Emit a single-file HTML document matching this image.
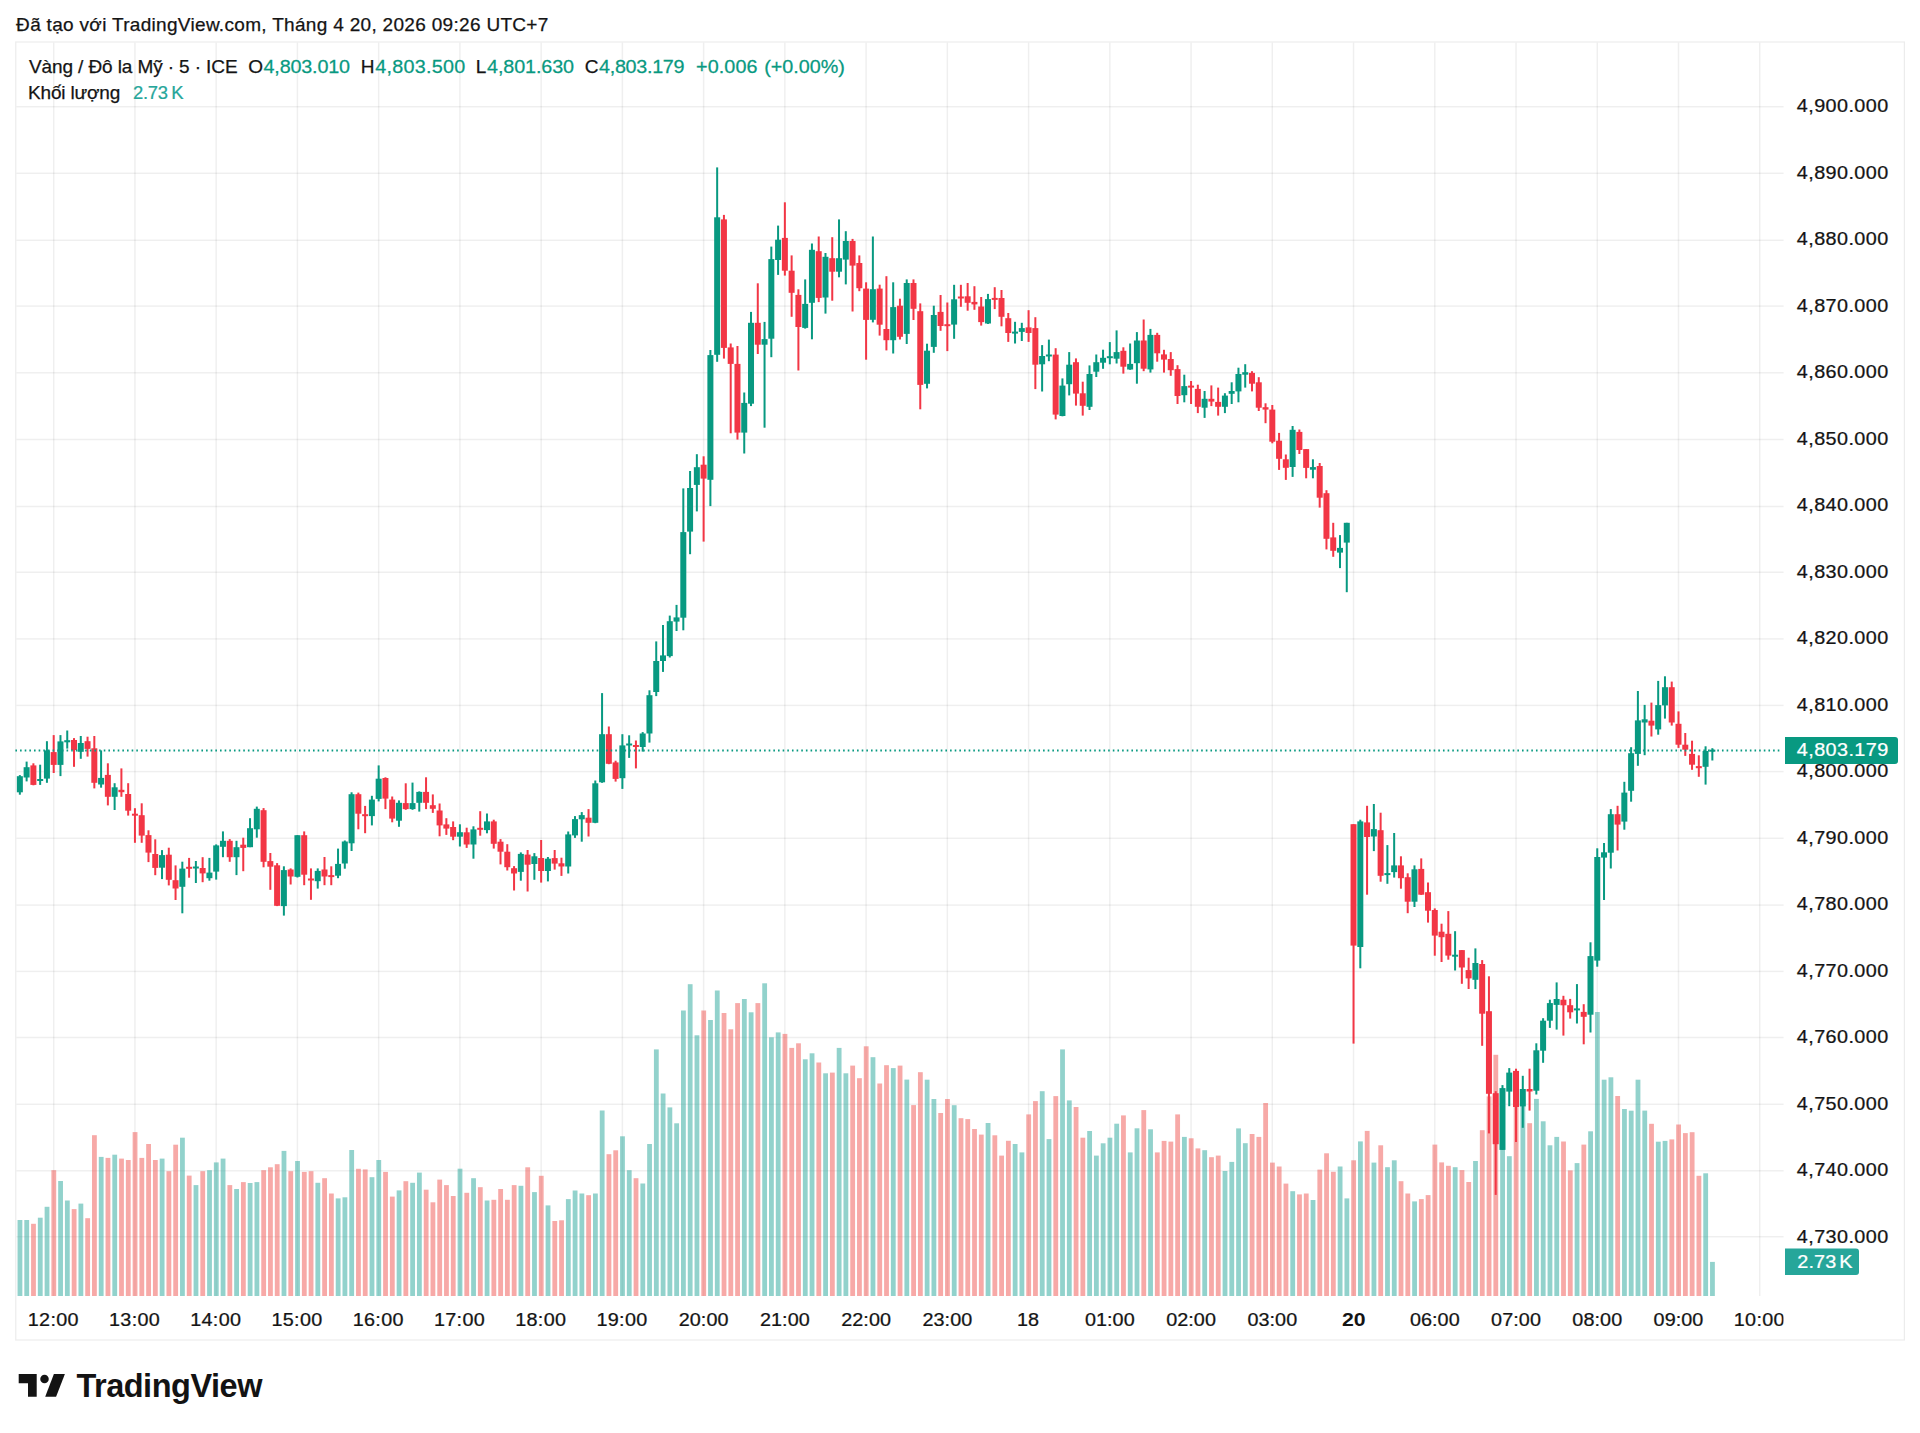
<!DOCTYPE html>
<html lang="vi"><head><meta charset="utf-8"><title>Vàng / Đô la Mỹ</title>
<style>html,body{margin:0;padding:0;background:#fff}body{width:1920px;height:1433px;position:relative;overflow:hidden}svg{position:absolute;left:0;top:0;display:block}text{font-family:'Liberation Sans', sans-serif;white-space:pre}.g{fill:#089981}.r{fill:#F23645}.vg{fill:rgba(38,166,154,0.5)}.vr{fill:rgba(239,83,80,0.5)}</style></head><body>
<svg width="1920" height="1433" viewBox="0 0 1920 1433">
<rect width="1920" height="1433" fill="#fff"/>
<g fill="rgba(0,0,0,0.062)">
<rect x="52.95" y="42.75" width="1.5" height="1253.25"/>
<rect x="134.19" y="42.75" width="1.5" height="1253.25"/>
<rect x="215.43" y="42.75" width="1.5" height="1253.25"/>
<rect x="296.67" y="42.75" width="1.5" height="1253.25"/>
<rect x="377.91" y="42.75" width="1.5" height="1253.25"/>
<rect x="459.15" y="42.75" width="1.5" height="1253.25"/>
<rect x="540.39" y="42.75" width="1.5" height="1253.25"/>
<rect x="621.63" y="42.75" width="1.5" height="1253.25"/>
<rect x="702.87" y="42.75" width="1.5" height="1253.25"/>
<rect x="784.11" y="42.75" width="1.5" height="1253.25"/>
<rect x="865.35" y="42.75" width="1.5" height="1253.25"/>
<rect x="946.59" y="42.75" width="1.5" height="1253.25"/>
<rect x="1027.83" y="42.75" width="1.5" height="1253.25"/>
<rect x="1109.07" y="42.75" width="1.5" height="1253.25"/>
<rect x="1190.31" y="42.75" width="1.5" height="1253.25"/>
<rect x="1271.55" y="42.75" width="1.5" height="1253.25"/>
<rect x="1352.79" y="42.75" width="1.5" height="1253.25"/>
<rect x="1434.03" y="42.75" width="1.5" height="1253.25"/>
<rect x="1515.27" y="42.75" width="1.5" height="1253.25"/>
<rect x="1596.51" y="42.75" width="1.5" height="1253.25"/>
<rect x="1677.75" y="42.75" width="1.5" height="1253.25"/>
<rect x="1758.99" y="42.75" width="1.5" height="1253.25"/>
<rect x="16.5" y="1235.95" width="1767.1" height="1.5"/>
<rect x="16.5" y="1170.05" width="1767.1" height="1.5"/>
<rect x="16.5" y="1103.55" width="1767.1" height="1.5"/>
<rect x="16.5" y="1036.75" width="1767.1" height="1.5"/>
<rect x="16.5" y="970.65" width="1767.1" height="1.5"/>
<rect x="16.5" y="904.35" width="1767.1" height="1.5"/>
<rect x="16.5" y="837.55" width="1767.1" height="1.5"/>
<rect x="16.5" y="770.85" width="1767.1" height="1.5"/>
<rect x="16.5" y="704.65" width="1767.1" height="1.5"/>
<rect x="16.5" y="638.15" width="1767.1" height="1.5"/>
<rect x="16.5" y="571.50" width="1767.1" height="1.5"/>
<rect x="16.5" y="505.75" width="1767.1" height="1.5"/>
<rect x="16.5" y="438.75" width="1767.1" height="1.5"/>
<rect x="16.5" y="372.05" width="1767.1" height="1.5"/>
<rect x="16.5" y="305.35" width="1767.1" height="1.5"/>
<rect x="16.5" y="239.55" width="1767.1" height="1.5"/>
<rect x="16.5" y="172.55" width="1767.1" height="1.5"/>
<rect x="16.5" y="105.95" width="1767.1" height="1.5"/>
</g>
<rect x="15.75" y="42" width="1888.65" height="1298" fill="none" stroke="rgba(0,0,0,0.075)" stroke-width="1.25"/>
<g>
<rect class="vg" x="17.55" y="1220.0" width="4.8" height="76.0"/>
<rect class="vg" x="24.32" y="1220.0" width="4.8" height="76.0"/>
<rect class="vr" x="31.09" y="1223.8" width="4.8" height="72.2"/>
<rect class="vg" x="37.86" y="1217.7" width="4.8" height="78.3"/>
<rect class="vg" x="44.63" y="1206.8" width="4.8" height="89.2"/>
<rect class="vr" x="51.40" y="1170.2" width="4.8" height="125.8"/>
<rect class="vg" x="58.17" y="1181.0" width="4.8" height="115.0"/>
<rect class="vg" x="64.94" y="1200.5" width="4.8" height="95.5"/>
<rect class="vr" x="71.71" y="1209.1" width="4.8" height="86.9"/>
<rect class="vg" x="78.48" y="1203.6" width="4.8" height="92.4"/>
<rect class="vr" x="85.25" y="1218.2" width="4.8" height="77.8"/>
<rect class="vr" x="92.02" y="1135.2" width="4.8" height="160.8"/>
<rect class="vg" x="98.79" y="1156.9" width="4.8" height="139.1"/>
<rect class="vr" x="105.56" y="1157.9" width="4.8" height="138.1"/>
<rect class="vg" x="112.33" y="1154.7" width="4.8" height="141.3"/>
<rect class="vr" x="119.10" y="1158.6" width="4.8" height="137.4"/>
<rect class="vr" x="125.87" y="1160.0" width="4.8" height="136.0"/>
<rect class="vr" x="132.64" y="1132.1" width="4.8" height="163.9"/>
<rect class="vr" x="139.41" y="1157.9" width="4.8" height="138.1"/>
<rect class="vr" x="146.18" y="1144.0" width="4.8" height="152.0"/>
<rect class="vr" x="152.95" y="1160.0" width="4.8" height="136.0"/>
<rect class="vg" x="159.72" y="1158.6" width="4.8" height="137.4"/>
<rect class="vr" x="166.49" y="1171.2" width="4.8" height="124.8"/>
<rect class="vr" x="173.26" y="1144.7" width="4.8" height="151.3"/>
<rect class="vg" x="180.03" y="1137.7" width="4.8" height="158.3"/>
<rect class="vr" x="186.80" y="1175.6" width="4.8" height="120.4"/>
<rect class="vg" x="193.57" y="1185.1" width="4.8" height="110.9"/>
<rect class="vr" x="200.34" y="1171.2" width="4.8" height="124.8"/>
<rect class="vg" x="207.11" y="1170.2" width="4.8" height="125.8"/>
<rect class="vg" x="213.88" y="1162.4" width="4.8" height="133.6"/>
<rect class="vg" x="220.65" y="1158.6" width="4.8" height="137.4"/>
<rect class="vr" x="227.42" y="1185.1" width="4.8" height="110.9"/>
<rect class="vg" x="234.19" y="1189.0" width="4.8" height="107.0"/>
<rect class="vr" x="240.96" y="1182.1" width="4.8" height="113.9"/>
<rect class="vg" x="247.73" y="1183.0" width="4.8" height="113.0"/>
<rect class="vg" x="254.50" y="1182.1" width="4.8" height="113.9"/>
<rect class="vr" x="261.27" y="1170.2" width="4.8" height="125.8"/>
<rect class="vr" x="268.04" y="1167.3" width="4.8" height="128.7"/>
<rect class="vr" x="274.81" y="1164.2" width="4.8" height="131.8"/>
<rect class="vg" x="281.58" y="1150.9" width="4.8" height="145.1"/>
<rect class="vr" x="288.35" y="1171.2" width="4.8" height="124.8"/>
<rect class="vg" x="295.12" y="1161.0" width="4.8" height="135.0"/>
<rect class="vr" x="301.89" y="1171.9" width="4.8" height="124.1"/>
<rect class="vr" x="308.66" y="1171.2" width="4.8" height="124.8"/>
<rect class="vg" x="315.43" y="1182.8" width="4.8" height="113.2"/>
<rect class="vr" x="322.20" y="1178.2" width="4.8" height="117.8"/>
<rect class="vr" x="328.97" y="1193.5" width="4.8" height="102.5"/>
<rect class="vg" x="335.74" y="1198.4" width="4.8" height="97.6"/>
<rect class="vg" x="342.51" y="1197.3" width="4.8" height="98.7"/>
<rect class="vg" x="349.28" y="1150.0" width="4.8" height="146.0"/>
<rect class="vr" x="356.05" y="1168.8" width="4.8" height="127.2"/>
<rect class="vr" x="362.82" y="1169.4" width="4.8" height="126.6"/>
<rect class="vg" x="369.59" y="1177.2" width="4.8" height="118.8"/>
<rect class="vg" x="376.36" y="1160.0" width="4.8" height="136.0"/>
<rect class="vr" x="383.13" y="1171.9" width="4.8" height="124.1"/>
<rect class="vr" x="389.90" y="1196.6" width="4.8" height="99.4"/>
<rect class="vg" x="396.67" y="1190.4" width="4.8" height="105.6"/>
<rect class="vr" x="403.44" y="1181.2" width="4.8" height="114.8"/>
<rect class="vg" x="410.21" y="1182.8" width="4.8" height="113.2"/>
<rect class="vg" x="416.98" y="1172.6" width="4.8" height="123.4"/>
<rect class="vr" x="423.75" y="1189.7" width="4.8" height="106.3"/>
<rect class="vr" x="430.52" y="1202.3" width="4.8" height="93.7"/>
<rect class="vr" x="437.29" y="1179.6" width="4.8" height="116.4"/>
<rect class="vr" x="444.06" y="1185.1" width="4.8" height="110.9"/>
<rect class="vr" x="450.83" y="1196.0" width="4.8" height="100.0"/>
<rect class="vg" x="457.60" y="1168.7" width="4.8" height="127.3"/>
<rect class="vr" x="464.37" y="1192.8" width="4.8" height="103.2"/>
<rect class="vg" x="471.14" y="1178.2" width="4.8" height="117.8"/>
<rect class="vr" x="477.91" y="1187.2" width="4.8" height="108.8"/>
<rect class="vg" x="484.68" y="1200.5" width="4.8" height="95.5"/>
<rect class="vr" x="491.45" y="1199.8" width="4.8" height="96.2"/>
<rect class="vr" x="498.22" y="1189.0" width="4.8" height="107.0"/>
<rect class="vr" x="504.99" y="1199.8" width="4.8" height="96.2"/>
<rect class="vr" x="511.76" y="1185.1" width="4.8" height="110.9"/>
<rect class="vg" x="518.53" y="1185.8" width="4.8" height="110.2"/>
<rect class="vr" x="525.30" y="1167.3" width="4.8" height="128.7"/>
<rect class="vg" x="532.07" y="1192.1" width="4.8" height="103.9"/>
<rect class="vr" x="538.84" y="1175.8" width="4.8" height="120.2"/>
<rect class="vg" x="545.61" y="1205.4" width="4.8" height="90.6"/>
<rect class="vr" x="552.38" y="1221.0" width="4.8" height="75.0"/>
<rect class="vr" x="559.15" y="1220.3" width="4.8" height="75.7"/>
<rect class="vg" x="565.92" y="1199.1" width="4.8" height="96.9"/>
<rect class="vg" x="572.69" y="1190.5" width="4.8" height="105.5"/>
<rect class="vg" x="579.46" y="1193.5" width="4.8" height="102.5"/>
<rect class="vr" x="586.23" y="1195.2" width="4.8" height="100.8"/>
<rect class="vg" x="593.00" y="1193.5" width="4.8" height="102.5"/>
<rect class="vg" x="599.77" y="1110.5" width="4.8" height="185.5"/>
<rect class="vr" x="606.54" y="1154.2" width="4.8" height="141.8"/>
<rect class="vr" x="613.31" y="1150.3" width="4.8" height="145.7"/>
<rect class="vg" x="620.08" y="1136.3" width="4.8" height="159.7"/>
<rect class="vg" x="626.85" y="1170.2" width="4.8" height="125.8"/>
<rect class="vr" x="633.62" y="1178.2" width="4.8" height="117.8"/>
<rect class="vg" x="640.39" y="1183.5" width="4.8" height="112.5"/>
<rect class="vg" x="647.16" y="1144.0" width="4.8" height="152.0"/>
<rect class="vg" x="653.93" y="1049.4" width="4.8" height="246.6"/>
<rect class="vg" x="660.70" y="1093.5" width="4.8" height="202.5"/>
<rect class="vg" x="667.47" y="1107.4" width="4.8" height="188.6"/>
<rect class="vg" x="674.24" y="1123.3" width="4.8" height="172.7"/>
<rect class="vg" x="681.01" y="1010.5" width="4.8" height="285.5"/>
<rect class="vg" x="687.78" y="984.2" width="4.8" height="311.8"/>
<rect class="vg" x="694.55" y="1035.3" width="4.8" height="260.7"/>
<rect class="vr" x="701.32" y="1010.5" width="4.8" height="285.5"/>
<rect class="vg" x="708.09" y="1020.0" width="4.8" height="276.0"/>
<rect class="vg" x="714.86" y="990.5" width="4.8" height="305.5"/>
<rect class="vr" x="721.63" y="1013.0" width="4.8" height="283.0"/>
<rect class="vr" x="728.40" y="1029.3" width="4.8" height="266.7"/>
<rect class="vr" x="735.17" y="1003.1" width="4.8" height="292.9"/>
<rect class="vg" x="741.94" y="999.0" width="4.8" height="297.0"/>
<rect class="vg" x="748.71" y="1012.3" width="4.8" height="283.7"/>
<rect class="vr" x="755.48" y="1003.1" width="4.8" height="292.9"/>
<rect class="vg" x="762.25" y="983.3" width="4.8" height="312.7"/>
<rect class="vg" x="769.02" y="1037.3" width="4.8" height="258.7"/>
<rect class="vg" x="775.79" y="1032.4" width="4.8" height="263.6"/>
<rect class="vr" x="782.56" y="1033.9" width="4.8" height="262.1"/>
<rect class="vr" x="789.33" y="1047.9" width="4.8" height="248.1"/>
<rect class="vr" x="796.10" y="1043.3" width="4.8" height="252.7"/>
<rect class="vg" x="802.87" y="1059.3" width="4.8" height="236.7"/>
<rect class="vg" x="809.64" y="1053.3" width="4.8" height="242.7"/>
<rect class="vr" x="816.41" y="1062.5" width="4.8" height="233.5"/>
<rect class="vg" x="823.18" y="1073.3" width="4.8" height="222.7"/>
<rect class="vr" x="829.95" y="1072.6" width="4.8" height="223.4"/>
<rect class="vg" x="836.72" y="1047.9" width="4.8" height="248.1"/>
<rect class="vg" x="843.49" y="1073.3" width="4.8" height="222.7"/>
<rect class="vr" x="850.26" y="1065.6" width="4.8" height="230.4"/>
<rect class="vr" x="857.03" y="1078.2" width="4.8" height="217.8"/>
<rect class="vr" x="863.80" y="1046.3" width="4.8" height="249.7"/>
<rect class="vg" x="870.57" y="1057.2" width="4.8" height="238.8"/>
<rect class="vr" x="877.34" y="1083.5" width="4.8" height="212.5"/>
<rect class="vr" x="884.11" y="1065.2" width="4.8" height="230.8"/>
<rect class="vg" x="890.88" y="1068.1" width="4.8" height="227.9"/>
<rect class="vr" x="897.65" y="1065.6" width="4.8" height="230.4"/>
<rect class="vg" x="904.42" y="1079.6" width="4.8" height="216.4"/>
<rect class="vr" x="911.19" y="1105.1" width="4.8" height="190.9"/>
<rect class="vr" x="917.96" y="1072.2" width="4.8" height="223.8"/>
<rect class="vg" x="924.73" y="1079.7" width="4.8" height="216.3"/>
<rect class="vg" x="931.50" y="1099.0" width="4.8" height="197.0"/>
<rect class="vr" x="938.27" y="1113.0" width="4.8" height="183.0"/>
<rect class="vr" x="945.04" y="1099.0" width="4.8" height="197.0"/>
<rect class="vg" x="951.81" y="1105.2" width="4.8" height="190.8"/>
<rect class="vr" x="958.58" y="1118.2" width="4.8" height="177.8"/>
<rect class="vr" x="965.35" y="1119.1" width="4.8" height="176.9"/>
<rect class="vr" x="972.12" y="1129.0" width="4.8" height="167.0"/>
<rect class="vr" x="978.89" y="1134.6" width="4.8" height="161.4"/>
<rect class="vg" x="985.66" y="1123.0" width="4.8" height="173.0"/>
<rect class="vr" x="992.43" y="1135.3" width="4.8" height="160.7"/>
<rect class="vr" x="999.20" y="1155.6" width="4.8" height="140.4"/>
<rect class="vr" x="1005.97" y="1140.8" width="4.8" height="155.2"/>
<rect class="vg" x="1012.74" y="1144.0" width="4.8" height="152.0"/>
<rect class="vg" x="1019.51" y="1152.4" width="4.8" height="143.6"/>
<rect class="vr" x="1026.28" y="1114.4" width="4.8" height="181.6"/>
<rect class="vr" x="1033.05" y="1101.1" width="4.8" height="194.9"/>
<rect class="vg" x="1039.82" y="1091.2" width="4.8" height="204.8"/>
<rect class="vg" x="1046.59" y="1139.1" width="4.8" height="156.9"/>
<rect class="vr" x="1053.36" y="1096.1" width="4.8" height="199.9"/>
<rect class="vg" x="1060.13" y="1049.4" width="4.8" height="246.6"/>
<rect class="vg" x="1066.90" y="1100.4" width="4.8" height="195.6"/>
<rect class="vr" x="1073.67" y="1107.0" width="4.8" height="189.0"/>
<rect class="vr" x="1080.44" y="1137.7" width="4.8" height="158.3"/>
<rect class="vg" x="1087.21" y="1131.0" width="4.8" height="165.0"/>
<rect class="vg" x="1093.98" y="1155.6" width="4.8" height="140.4"/>
<rect class="vg" x="1100.75" y="1143.3" width="4.8" height="152.7"/>
<rect class="vg" x="1107.52" y="1137.7" width="4.8" height="158.3"/>
<rect class="vg" x="1114.29" y="1123.7" width="4.8" height="172.3"/>
<rect class="vr" x="1121.06" y="1115.4" width="4.8" height="180.6"/>
<rect class="vg" x="1127.83" y="1152.4" width="4.8" height="143.6"/>
<rect class="vg" x="1134.60" y="1128.3" width="4.8" height="167.7"/>
<rect class="vr" x="1141.37" y="1110.1" width="4.8" height="185.9"/>
<rect class="vg" x="1148.14" y="1129.3" width="4.8" height="166.7"/>
<rect class="vr" x="1154.91" y="1152.4" width="4.8" height="143.6"/>
<rect class="vr" x="1161.68" y="1140.9" width="4.8" height="155.1"/>
<rect class="vr" x="1168.45" y="1141.6" width="4.8" height="154.4"/>
<rect class="vr" x="1175.22" y="1114.4" width="4.8" height="181.6"/>
<rect class="vg" x="1181.99" y="1136.9" width="4.8" height="159.1"/>
<rect class="vr" x="1188.76" y="1138.3" width="4.8" height="157.7"/>
<rect class="vr" x="1195.53" y="1148.4" width="4.8" height="147.6"/>
<rect class="vg" x="1202.30" y="1150.2" width="4.8" height="145.8"/>
<rect class="vr" x="1209.07" y="1157.2" width="4.8" height="138.8"/>
<rect class="vr" x="1215.84" y="1155.6" width="4.8" height="140.4"/>
<rect class="vg" x="1222.61" y="1171.0" width="4.8" height="125.0"/>
<rect class="vg" x="1229.38" y="1161.9" width="4.8" height="134.1"/>
<rect class="vg" x="1236.15" y="1128.4" width="4.8" height="167.6"/>
<rect class="vg" x="1242.92" y="1143.2" width="4.8" height="152.8"/>
<rect class="vr" x="1249.69" y="1134.0" width="4.8" height="162.0"/>
<rect class="vr" x="1256.46" y="1136.9" width="4.8" height="159.1"/>
<rect class="vr" x="1263.23" y="1103.0" width="4.8" height="193.0"/>
<rect class="vr" x="1270.00" y="1162.6" width="4.8" height="133.4"/>
<rect class="vr" x="1276.77" y="1166.5" width="4.8" height="129.5"/>
<rect class="vr" x="1283.54" y="1183.6" width="4.8" height="112.4"/>
<rect class="vg" x="1290.31" y="1191.2" width="4.8" height="104.8"/>
<rect class="vr" x="1297.08" y="1194.4" width="4.8" height="101.6"/>
<rect class="vr" x="1303.85" y="1193.5" width="4.8" height="102.5"/>
<rect class="vg" x="1310.62" y="1200.0" width="4.8" height="96.0"/>
<rect class="vr" x="1317.39" y="1169.6" width="4.8" height="126.4"/>
<rect class="vr" x="1324.16" y="1153.3" width="4.8" height="142.7"/>
<rect class="vr" x="1330.93" y="1171.8" width="4.8" height="124.2"/>
<rect class="vg" x="1337.70" y="1166.5" width="4.8" height="129.5"/>
<rect class="vg" x="1344.47" y="1198.4" width="4.8" height="97.6"/>
<rect class="vr" x="1351.24" y="1160.3" width="4.8" height="135.7"/>
<rect class="vg" x="1358.01" y="1141.4" width="4.8" height="154.6"/>
<rect class="vr" x="1364.78" y="1130.9" width="4.8" height="165.1"/>
<rect class="vg" x="1371.55" y="1162.6" width="4.8" height="133.4"/>
<rect class="vr" x="1378.32" y="1145.3" width="4.8" height="150.7"/>
<rect class="vg" x="1385.09" y="1167.2" width="4.8" height="128.8"/>
<rect class="vg" x="1391.86" y="1160.3" width="4.8" height="135.7"/>
<rect class="vr" x="1398.63" y="1181.2" width="4.8" height="114.8"/>
<rect class="vr" x="1405.40" y="1193.5" width="4.8" height="102.5"/>
<rect class="vg" x="1412.17" y="1201.4" width="4.8" height="94.6"/>
<rect class="vr" x="1418.94" y="1199.1" width="4.8" height="96.9"/>
<rect class="vr" x="1425.71" y="1195.1" width="4.8" height="100.9"/>
<rect class="vr" x="1432.48" y="1144.6" width="4.8" height="151.4"/>
<rect class="vr" x="1439.25" y="1162.4" width="4.8" height="133.6"/>
<rect class="vr" x="1446.02" y="1165.8" width="4.8" height="130.2"/>
<rect class="vg" x="1452.79" y="1167.2" width="4.8" height="128.8"/>
<rect class="vr" x="1459.56" y="1170.1" width="4.8" height="125.9"/>
<rect class="vr" x="1466.33" y="1182.0" width="4.8" height="114.0"/>
<rect class="vg" x="1473.10" y="1161.0" width="4.8" height="135.0"/>
<rect class="vr" x="1479.87" y="1130.2" width="4.8" height="165.8"/>
<rect class="vr" x="1486.64" y="1096.4" width="4.8" height="199.6"/>
<rect class="vr" x="1493.41" y="1054.8" width="4.8" height="241.2"/>
<rect class="vg" x="1500.18" y="1120.0" width="4.8" height="176.0"/>
<rect class="vg" x="1506.95" y="1156.2" width="4.8" height="139.8"/>
<rect class="vr" x="1513.72" y="1100.0" width="4.8" height="196.0"/>
<rect class="vg" x="1520.49" y="1100.0" width="4.8" height="196.0"/>
<rect class="vr" x="1527.26" y="1123.2" width="4.8" height="172.8"/>
<rect class="vg" x="1534.03" y="1098.9" width="4.8" height="197.1"/>
<rect class="vg" x="1540.80" y="1121.3" width="4.8" height="174.7"/>
<rect class="vg" x="1547.57" y="1145.3" width="4.8" height="150.7"/>
<rect class="vg" x="1554.34" y="1136.9" width="4.8" height="159.1"/>
<rect class="vr" x="1561.11" y="1141.5" width="4.8" height="154.5"/>
<rect class="vr" x="1567.88" y="1170.4" width="4.8" height="125.6"/>
<rect class="vg" x="1574.65" y="1163.1" width="4.8" height="132.9"/>
<rect class="vr" x="1581.42" y="1144.6" width="4.8" height="151.4"/>
<rect class="vg" x="1588.19" y="1131.3" width="4.8" height="164.7"/>
<rect class="vg" x="1594.96" y="1012.0" width="4.8" height="284.0"/>
<rect class="vg" x="1601.73" y="1079.7" width="4.8" height="216.3"/>
<rect class="vg" x="1608.50" y="1077.3" width="4.8" height="218.7"/>
<rect class="vr" x="1615.27" y="1096.0" width="4.8" height="200.0"/>
<rect class="vg" x="1622.04" y="1109.0" width="4.8" height="187.0"/>
<rect class="vg" x="1628.81" y="1110.7" width="4.8" height="185.3"/>
<rect class="vg" x="1635.58" y="1079.7" width="4.8" height="216.3"/>
<rect class="vg" x="1642.35" y="1110.6" width="4.8" height="185.4"/>
<rect class="vr" x="1649.12" y="1123.8" width="4.8" height="172.2"/>
<rect class="vg" x="1655.89" y="1141.7" width="4.8" height="154.3"/>
<rect class="vg" x="1662.66" y="1140.9" width="4.8" height="155.1"/>
<rect class="vr" x="1669.43" y="1139.4" width="4.8" height="156.6"/>
<rect class="vr" x="1676.20" y="1124.5" width="4.8" height="171.5"/>
<rect class="vr" x="1682.97" y="1133.1" width="4.8" height="162.9"/>
<rect class="vr" x="1689.74" y="1132.2" width="4.8" height="163.8"/>
<rect class="vr" x="1696.51" y="1175.8" width="4.8" height="120.2"/>
<rect class="vg" x="1703.28" y="1173.3" width="4.8" height="122.7"/>
<rect class="vg" x="1710.05" y="1261.9" width="4.8" height="34.1"/>
</g>
<g>
<rect class="g" x="18.85" y="775.1" width="2" height="19.6"/><rect class="g" x="16.85" y="776.2" width="6" height="16.1"/>
<rect class="g" x="25.62" y="761.6" width="2" height="19.8"/><rect class="g" x="23.62" y="767.2" width="6" height="10.3"/>
<rect class="r" x="32.39" y="763.3" width="2" height="22.0"/><rect class="r" x="30.39" y="765.4" width="6" height="19.5"/>
<rect class="g" x="39.16" y="764.7" width="2" height="20.2"/><rect class="g" x="37.16" y="779.0" width="6" height="2.0"/>
<rect class="g" x="45.93" y="741.2" width="2" height="41.6"/><rect class="g" x="43.93" y="750.4" width="6" height="28.2"/>
<rect class="r" x="52.70" y="735.1" width="2" height="37.9"/><rect class="r" x="50.70" y="752.1" width="6" height="12.8"/>
<rect class="g" x="59.47" y="735.1" width="2" height="41.0"/><rect class="g" x="57.47" y="741.4" width="6" height="23.5"/>
<rect class="g" x="66.24" y="730.5" width="2" height="18.1"/><rect class="g" x="64.24" y="740.2" width="6" height="2.1"/>
<rect class="r" x="73.01" y="738.1" width="2" height="28.7"/><rect class="r" x="71.01" y="740.0" width="6" height="10.0"/>
<rect class="g" x="79.78" y="736.0" width="2" height="22.8"/><rect class="g" x="77.78" y="743.0" width="6" height="8.8"/>
<rect class="r" x="86.55" y="736.7" width="2" height="19.9"/><rect class="r" x="84.55" y="741.2" width="6" height="7.7"/>
<rect class="r" x="93.32" y="736.0" width="2" height="52.4"/><rect class="r" x="91.32" y="748.3" width="6" height="34.5"/>
<rect class="g" x="100.09" y="750.4" width="2" height="37.3"/><rect class="g" x="98.09" y="777.9" width="6" height="6.6"/>
<rect class="r" x="106.86" y="763.3" width="2" height="42.1"/><rect class="r" x="104.86" y="774.9" width="6" height="21.9"/>
<rect class="g" x="113.63" y="783.2" width="2" height="26.8"/><rect class="g" x="111.63" y="787.3" width="6" height="9.5"/>
<rect class="r" x="120.40" y="768.4" width="2" height="28.4"/><rect class="r" x="118.40" y="789.8" width="6" height="2.4"/>
<rect class="r" x="127.17" y="783.2" width="2" height="32.4"/><rect class="r" x="125.17" y="794.0" width="6" height="16.7"/>
<rect class="r" x="133.94" y="808.2" width="2" height="34.6"/><rect class="r" x="131.94" y="813.7" width="6" height="2.0"/>
<rect class="r" x="140.71" y="803.3" width="2" height="39.5"/><rect class="r" x="138.71" y="815.2" width="6" height="20.4"/>
<rect class="r" x="147.48" y="830.3" width="2" height="31.8"/><rect class="r" x="145.48" y="835.1" width="6" height="17.5"/>
<rect class="r" x="154.25" y="839.3" width="2" height="35.9"/><rect class="r" x="152.25" y="854.0" width="6" height="13.9"/>
<rect class="g" x="161.02" y="850.1" width="2" height="29.0"/><rect class="g" x="159.02" y="855.1" width="6" height="12.6"/>
<rect class="r" x="167.79" y="847.7" width="2" height="37.7"/><rect class="r" x="165.79" y="854.7" width="6" height="25.1"/>
<rect class="r" x="174.56" y="865.4" width="2" height="34.6"/><rect class="r" x="172.56" y="880.2" width="6" height="8.3"/>
<rect class="g" x="181.33" y="861.7" width="2" height="51.6"/><rect class="g" x="179.33" y="868.6" width="6" height="18.2"/>
<rect class="r" x="188.10" y="857.9" width="2" height="19.8"/><rect class="r" x="186.10" y="866.8" width="6" height="2.0"/>
<rect class="g" x="194.87" y="861.0" width="2" height="22.0"/><rect class="g" x="192.87" y="866.5" width="6" height="2.0"/>
<rect class="r" x="201.64" y="857.2" width="2" height="25.0"/><rect class="r" x="199.64" y="868.0" width="6" height="5.4"/>
<rect class="g" x="208.41" y="857.9" width="2" height="22.8"/><rect class="g" x="206.41" y="872.6" width="6" height="5.6"/>
<rect class="g" x="215.18" y="844.4" width="2" height="35.2"/><rect class="g" x="213.18" y="845.4" width="6" height="26.2"/>
<rect class="g" x="221.95" y="831.4" width="2" height="25.8"/><rect class="g" x="219.95" y="840.8" width="6" height="6.0"/>
<rect class="r" x="228.72" y="839.1" width="2" height="22.7"/><rect class="r" x="226.72" y="840.8" width="6" height="16.4"/>
<rect class="g" x="235.49" y="840.8" width="2" height="34.3"/><rect class="g" x="233.49" y="847.2" width="6" height="10.0"/>
<rect class="r" x="242.26" y="837.7" width="2" height="33.5"/><rect class="r" x="240.26" y="844.7" width="6" height="3.2"/>
<rect class="g" x="249.03" y="818.2" width="2" height="29.0"/><rect class="g" x="247.03" y="828.2" width="6" height="19.0"/>
<rect class="g" x="255.80" y="806.6" width="2" height="31.1"/><rect class="g" x="253.80" y="808.8" width="6" height="20.5"/>
<rect class="r" x="262.57" y="808.1" width="2" height="59.2"/><rect class="r" x="260.57" y="810.2" width="6" height="51.6"/>
<rect class="r" x="269.34" y="853.0" width="2" height="36.8"/><rect class="r" x="267.34" y="861.1" width="6" height="5.6"/>
<rect class="r" x="276.11" y="863.1" width="2" height="43.0"/><rect class="r" x="274.11" y="865.3" width="6" height="40.5"/>
<rect class="g" x="282.88" y="866.3" width="2" height="49.3"/><rect class="g" x="280.88" y="870.1" width="6" height="36.0"/>
<rect class="r" x="289.65" y="868.4" width="2" height="16.1"/><rect class="r" x="287.65" y="869.5" width="6" height="7.0"/>
<rect class="g" x="296.42" y="835.2" width="2" height="42.3"/><rect class="g" x="294.42" y="835.2" width="6" height="41.6"/>
<rect class="r" x="303.19" y="831.4" width="2" height="53.8"/><rect class="r" x="301.19" y="835.2" width="6" height="39.5"/>
<rect class="r" x="309.96" y="868.4" width="2" height="31.4"/><rect class="r" x="307.96" y="878.5" width="6" height="2.0"/>
<rect class="g" x="316.73" y="868.4" width="2" height="20.2"/><rect class="g" x="314.73" y="870.9" width="6" height="10.3"/>
<rect class="r" x="323.50" y="857.0" width="2" height="28.2"/><rect class="r" x="321.50" y="869.5" width="6" height="7.0"/>
<rect class="r" x="330.27" y="866.3" width="2" height="18.9"/><rect class="r" x="328.27" y="875.1" width="6" height="2.0"/>
<rect class="g" x="337.04" y="848.6" width="2" height="29.6"/><rect class="g" x="335.04" y="863.9" width="6" height="11.8"/>
<rect class="g" x="343.81" y="840.5" width="2" height="28.2"/><rect class="g" x="341.81" y="841.5" width="6" height="22.0"/>
<rect class="g" x="350.58" y="792.3" width="2" height="58.7"/><rect class="g" x="348.58" y="794.2" width="6" height="49.1"/>
<rect class="r" x="357.35" y="792.6" width="2" height="36.7"/><rect class="r" x="355.35" y="794.2" width="6" height="19.5"/>
<rect class="r" x="364.12" y="805.9" width="2" height="27.3"/><rect class="r" x="362.12" y="814.2" width="6" height="2.0"/>
<rect class="g" x="370.89" y="795.8" width="2" height="29.6"/><rect class="g" x="368.89" y="799.6" width="6" height="16.5"/>
<rect class="g" x="377.66" y="765.4" width="2" height="36.0"/><rect class="g" x="375.66" y="778.7" width="6" height="20.2"/>
<rect class="r" x="384.43" y="777.3" width="2" height="31.8"/><rect class="r" x="382.43" y="778.0" width="6" height="20.6"/>
<rect class="r" x="391.20" y="796.5" width="2" height="25.8"/><rect class="r" x="389.20" y="799.6" width="6" height="19.0"/>
<rect class="g" x="397.97" y="800.4" width="2" height="26.4"/><rect class="g" x="395.97" y="802.8" width="6" height="17.9"/>
<rect class="r" x="404.74" y="783.3" width="2" height="26.5"/><rect class="r" x="402.74" y="803.1" width="6" height="6.0"/>
<rect class="g" x="411.51" y="782.6" width="2" height="27.2"/><rect class="g" x="409.51" y="803.1" width="6" height="6.0"/>
<rect class="g" x="418.28" y="791.4" width="2" height="20.2"/><rect class="g" x="416.28" y="791.9" width="6" height="10.9"/>
<rect class="r" x="425.05" y="777.3" width="2" height="31.8"/><rect class="r" x="423.05" y="791.9" width="6" height="10.9"/>
<rect class="r" x="431.82" y="794.4" width="2" height="18.5"/><rect class="r" x="429.82" y="805.2" width="6" height="3.6"/>
<rect class="r" x="438.59" y="803.5" width="2" height="32.8"/><rect class="r" x="436.59" y="810.5" width="6" height="14.9"/>
<rect class="r" x="445.36" y="818.2" width="2" height="16.7"/><rect class="r" x="443.36" y="824.4" width="6" height="4.2"/>
<rect class="r" x="452.13" y="821.4" width="2" height="18.8"/><rect class="r" x="450.13" y="827.0" width="6" height="9.7"/>
<rect class="g" x="458.90" y="824.3" width="2" height="22.2"/><rect class="g" x="456.90" y="832.2" width="6" height="4.5"/>
<rect class="r" x="465.67" y="827.7" width="2" height="20.2"/><rect class="r" x="463.67" y="832.3" width="6" height="12.2"/>
<rect class="g" x="472.44" y="826.3" width="2" height="32.4"/><rect class="g" x="470.44" y="829.4" width="6" height="15.1"/>
<rect class="r" x="479.21" y="811.2" width="2" height="24.5"/><rect class="r" x="477.21" y="827.8" width="6" height="2.0"/>
<rect class="g" x="485.98" y="813.5" width="2" height="19.8"/><rect class="g" x="483.98" y="821.4" width="6" height="8.7"/>
<rect class="r" x="492.75" y="819.7" width="2" height="28.9"/><rect class="r" x="490.75" y="821.4" width="6" height="22.4"/>
<rect class="r" x="499.52" y="839.1" width="2" height="25.3"/><rect class="r" x="497.52" y="841.7" width="6" height="10.0"/>
<rect class="r" x="506.29" y="844.2" width="2" height="26.3"/><rect class="r" x="504.29" y="851.7" width="6" height="15.5"/>
<rect class="r" x="513.06" y="866.1" width="2" height="24.4"/><rect class="r" x="511.06" y="868.2" width="6" height="5.3"/>
<rect class="g" x="519.83" y="852.4" width="2" height="28.3"/><rect class="g" x="517.83" y="853.9" width="6" height="18.0"/>
<rect class="r" x="526.60" y="850.0" width="2" height="41.5"/><rect class="r" x="524.60" y="854.6" width="6" height="10.1"/>
<rect class="g" x="533.37" y="853.1" width="2" height="26.7"/><rect class="g" x="531.37" y="856.3" width="6" height="7.7"/>
<rect class="r" x="540.14" y="840.0" width="2" height="42.6"/><rect class="r" x="538.14" y="858.0" width="6" height="13.0"/>
<rect class="g" x="546.91" y="857.0" width="2" height="24.4"/><rect class="g" x="544.91" y="858.7" width="6" height="12.3"/>
<rect class="r" x="553.68" y="850.0" width="2" height="19.6"/><rect class="r" x="551.68" y="858.1" width="6" height="5.5"/>
<rect class="r" x="560.45" y="857.7" width="2" height="18.2"/><rect class="r" x="558.45" y="863.3" width="6" height="3.2"/>
<rect class="g" x="567.22" y="831.5" width="2" height="42.0"/><rect class="g" x="565.22" y="834.4" width="6" height="32.1"/>
<rect class="g" x="573.99" y="816.1" width="2" height="21.8"/><rect class="g" x="571.99" y="819.1" width="6" height="16.3"/>
<rect class="g" x="580.76" y="812.1" width="2" height="29.6"/><rect class="g" x="578.76" y="815.1" width="6" height="4.2"/>
<rect class="r" x="587.53" y="809.1" width="2" height="27.4"/><rect class="r" x="585.53" y="817.7" width="6" height="5.1"/>
<rect class="g" x="594.30" y="780.5" width="2" height="42.7"/><rect class="g" x="592.30" y="783.3" width="6" height="39.5"/>
<rect class="g" x="601.07" y="693.1" width="2" height="89.7"/><rect class="g" x="599.07" y="734.2" width="6" height="48.1"/>
<rect class="r" x="607.84" y="726.5" width="2" height="37.7"/><rect class="r" x="605.84" y="734.2" width="6" height="29.6"/>
<rect class="r" x="614.61" y="760.7" width="2" height="20.9"/><rect class="r" x="612.61" y="762.4" width="6" height="16.5"/>
<rect class="g" x="621.38" y="734.2" width="2" height="54.7"/><rect class="g" x="619.38" y="745.4" width="6" height="32.8"/>
<rect class="g" x="628.15" y="735.3" width="2" height="22.6"/><rect class="g" x="626.15" y="743.5" width="6" height="2.0"/>
<rect class="r" x="634.92" y="740.5" width="2" height="27.9"/><rect class="r" x="632.92" y="745.0" width="6" height="2.0"/>
<rect class="g" x="641.69" y="732.1" width="2" height="19.5"/><rect class="g" x="639.69" y="733.5" width="6" height="13.5"/>
<rect class="g" x="648.46" y="690.3" width="2" height="52.3"/><rect class="g" x="646.46" y="695.2" width="6" height="38.3"/>
<rect class="g" x="655.23" y="641.4" width="2" height="54.7"/><rect class="g" x="653.23" y="661.0" width="6" height="31.0"/>
<rect class="g" x="662.00" y="625.0" width="2" height="46.9"/><rect class="g" x="660.00" y="655.4" width="6" height="5.6"/>
<rect class="g" x="668.77" y="615.6" width="2" height="41.9"/><rect class="g" x="666.77" y="621.2" width="6" height="34.9"/>
<rect class="g" x="675.54" y="604.9" width="2" height="26.1"/><rect class="g" x="673.54" y="617.4" width="6" height="4.2"/>
<rect class="g" x="682.31" y="488.4" width="2" height="141.9"/><rect class="g" x="680.31" y="532.1" width="6" height="85.6"/>
<rect class="g" x="689.08" y="471.0" width="2" height="83.2"/><rect class="g" x="687.08" y="488.0" width="6" height="43.6"/>
<rect class="g" x="695.85" y="454.2" width="2" height="57.2"/><rect class="g" x="693.85" y="467.2" width="6" height="17.7"/>
<rect class="r" x="702.62" y="456.3" width="2" height="85.3"/><rect class="r" x="700.62" y="464.7" width="6" height="13.9"/>
<rect class="g" x="709.39" y="350.0" width="2" height="156.1"/><rect class="g" x="707.39" y="355.1" width="6" height="124.7"/>
<rect class="g" x="716.16" y="167.4" width="2" height="194.4"/><rect class="g" x="714.16" y="217.3" width="6" height="137.5"/>
<rect class="r" x="722.93" y="214.9" width="2" height="143.7"/><rect class="r" x="720.93" y="219.4" width="6" height="128.5"/>
<rect class="r" x="729.70" y="343.5" width="2" height="89.8"/><rect class="r" x="727.70" y="347.4" width="6" height="16.5"/>
<rect class="r" x="736.47" y="346.0" width="2" height="93.6"/><rect class="r" x="734.47" y="363.9" width="6" height="68.7"/>
<rect class="g" x="743.24" y="392.5" width="2" height="61.0"/><rect class="g" x="741.24" y="402.9" width="6" height="29.7"/>
<rect class="g" x="750.01" y="311.9" width="2" height="94.2"/><rect class="g" x="748.01" y="322.8" width="6" height="80.9"/>
<rect class="r" x="756.78" y="283.3" width="2" height="70.7"/><rect class="r" x="754.78" y="322.8" width="6" height="21.9"/>
<rect class="g" x="763.55" y="321.9" width="2" height="105.8"/><rect class="g" x="761.55" y="339.1" width="6" height="5.6"/>
<rect class="g" x="770.32" y="246.6" width="2" height="110.6"/><rect class="g" x="768.32" y="259.1" width="6" height="79.6"/>
<rect class="g" x="777.09" y="225.6" width="2" height="49.3"/><rect class="g" x="775.09" y="239.7" width="6" height="20.3"/>
<rect class="r" x="783.86" y="202.3" width="2" height="73.3"/><rect class="r" x="781.86" y="237.9" width="6" height="32.8"/>
<rect class="r" x="790.63" y="255.4" width="2" height="61.4"/><rect class="r" x="788.63" y="270.7" width="6" height="22.1"/>
<rect class="r" x="797.40" y="289.3" width="2" height="81.2"/><rect class="r" x="795.40" y="294.9" width="6" height="32.1"/>
<rect class="g" x="804.17" y="279.4" width="2" height="49.2"/><rect class="g" x="802.17" y="303.9" width="6" height="24.0"/>
<rect class="g" x="810.94" y="243.5" width="2" height="95.8"/><rect class="g" x="808.94" y="249.8" width="6" height="53.0"/>
<rect class="r" x="817.71" y="236.5" width="2" height="65.6"/><rect class="r" x="815.71" y="251.2" width="6" height="46.7"/>
<rect class="g" x="824.48" y="253.0" width="2" height="60.6"/><rect class="g" x="822.48" y="256.8" width="6" height="40.7"/>
<rect class="r" x="831.25" y="237.2" width="2" height="63.5"/><rect class="r" x="829.25" y="258.2" width="6" height="13.5"/>
<rect class="g" x="838.02" y="219.4" width="2" height="57.9"/><rect class="g" x="836.02" y="258.2" width="6" height="13.5"/>
<rect class="g" x="844.79" y="231.2" width="2" height="53.2"/><rect class="g" x="842.79" y="241.0" width="6" height="18.6"/>
<rect class="r" x="851.56" y="238.9" width="2" height="72.6"/><rect class="r" x="849.56" y="241.0" width="6" height="24.6"/>
<rect class="r" x="858.33" y="255.4" width="2" height="35.8"/><rect class="r" x="856.33" y="263.0" width="6" height="25.2"/>
<rect class="r" x="865.10" y="282.3" width="2" height="77.4"/><rect class="r" x="863.10" y="288.6" width="6" height="31.3"/>
<rect class="g" x="871.87" y="236.5" width="2" height="85.9"/><rect class="g" x="869.87" y="289.2" width="6" height="30.6"/>
<rect class="r" x="878.64" y="284.7" width="2" height="50.9"/><rect class="r" x="876.64" y="288.6" width="6" height="36.1"/>
<rect class="r" x="885.41" y="276.2" width="2" height="74.2"/><rect class="r" x="883.41" y="329.0" width="6" height="11.2"/>
<rect class="g" x="892.18" y="282.3" width="2" height="71.2"/><rect class="g" x="890.18" y="307.1" width="6" height="33.1"/>
<rect class="r" x="898.95" y="298.7" width="2" height="40.8"/><rect class="r" x="896.95" y="305.7" width="6" height="31.1"/>
<rect class="g" x="905.72" y="279.4" width="2" height="64.6"/><rect class="g" x="903.72" y="283.0" width="6" height="50.9"/>
<rect class="r" x="912.49" y="279.4" width="2" height="40.6"/><rect class="r" x="910.49" y="283.0" width="6" height="25.8"/>
<rect class="r" x="919.26" y="303.4" width="2" height="105.9"/><rect class="r" x="917.26" y="311.2" width="6" height="73.7"/>
<rect class="g" x="926.03" y="343.7" width="2" height="44.7"/><rect class="g" x="924.03" y="350.7" width="6" height="33.1"/>
<rect class="g" x="932.80" y="305.7" width="2" height="47.1"/><rect class="g" x="930.80" y="315.0" width="6" height="31.9"/>
<rect class="r" x="939.57" y="295.0" width="2" height="35.8"/><rect class="r" x="937.57" y="311.9" width="6" height="14.1"/>
<rect class="r" x="946.34" y="302.5" width="2" height="48.6"/><rect class="r" x="944.34" y="324.2" width="6" height="2.0"/>
<rect class="g" x="953.11" y="284.8" width="2" height="54.0"/><rect class="g" x="951.11" y="299.3" width="6" height="25.3"/>
<rect class="r" x="959.88" y="284.8" width="2" height="22.0"/><rect class="r" x="957.88" y="296.5" width="6" height="2.0"/>
<rect class="r" x="966.65" y="283.0" width="2" height="27.7"/><rect class="r" x="964.65" y="296.3" width="6" height="6.5"/>
<rect class="r" x="973.42" y="286.2" width="2" height="23.6"/><rect class="r" x="971.42" y="301.9" width="6" height="2.5"/>
<rect class="r" x="980.19" y="297.0" width="2" height="28.6"/><rect class="r" x="978.19" y="306.5" width="6" height="15.6"/>
<rect class="g" x="986.96" y="293.9" width="2" height="30.1"/><rect class="g" x="984.96" y="299.1" width="6" height="24.4"/>
<rect class="r" x="993.73" y="287.2" width="2" height="21.9"/><rect class="r" x="991.73" y="297.9" width="6" height="2.0"/>
<rect class="r" x="1000.50" y="290.0" width="2" height="36.3"/><rect class="r" x="998.50" y="298.0" width="6" height="18.8"/>
<rect class="r" x="1007.27" y="313.0" width="2" height="28.9"/><rect class="r" x="1005.27" y="318.2" width="6" height="14.8"/>
<rect class="g" x="1014.04" y="321.8" width="2" height="21.7"/><rect class="g" x="1012.04" y="331.6" width="6" height="2.0"/>
<rect class="g" x="1020.81" y="322.8" width="2" height="18.2"/><rect class="g" x="1018.81" y="328.1" width="6" height="3.8"/>
<rect class="r" x="1027.58" y="310.2" width="2" height="31.7"/><rect class="r" x="1025.58" y="327.4" width="6" height="5.6"/>
<rect class="r" x="1034.35" y="317.2" width="2" height="71.9"/><rect class="r" x="1032.35" y="328.1" width="6" height="36.6"/>
<rect class="g" x="1041.12" y="345.1" width="2" height="46.4"/><rect class="g" x="1039.12" y="356.0" width="6" height="8.3"/>
<rect class="g" x="1047.89" y="339.6" width="2" height="21.6"/><rect class="g" x="1045.89" y="354.5" width="6" height="2.0"/>
<rect class="r" x="1054.66" y="348.2" width="2" height="71.2"/><rect class="r" x="1052.66" y="354.6" width="6" height="60.0"/>
<rect class="g" x="1061.43" y="378.4" width="2" height="37.9"/><rect class="g" x="1059.43" y="385.6" width="6" height="30.4"/>
<rect class="g" x="1068.20" y="352.1" width="2" height="43.3"/><rect class="g" x="1066.20" y="364.7" width="6" height="19.5"/>
<rect class="r" x="1074.97" y="358.4" width="2" height="47.2"/><rect class="r" x="1072.97" y="362.2" width="6" height="31.4"/>
<rect class="r" x="1081.74" y="381.7" width="2" height="33.9"/><rect class="r" x="1079.74" y="393.3" width="6" height="12.5"/>
<rect class="g" x="1088.51" y="365.4" width="2" height="44.6"/><rect class="g" x="1086.51" y="374.0" width="6" height="32.8"/>
<rect class="g" x="1095.28" y="354.5" width="2" height="22.5"/><rect class="g" x="1093.28" y="362.2" width="6" height="9.5"/>
<rect class="g" x="1102.05" y="349.7" width="2" height="19.1"/><rect class="g" x="1100.05" y="357.8" width="6" height="4.9"/>
<rect class="g" x="1108.82" y="342.1" width="2" height="22.2"/><rect class="g" x="1106.82" y="356.2" width="6" height="2.0"/>
<rect class="g" x="1115.59" y="330.4" width="2" height="33.1"/><rect class="g" x="1113.59" y="352.1" width="6" height="6.6"/>
<rect class="r" x="1122.36" y="347.3" width="2" height="26.3"/><rect class="r" x="1120.36" y="350.8" width="6" height="15.9"/>
<rect class="g" x="1129.13" y="343.5" width="2" height="26.3"/><rect class="g" x="1127.13" y="363.9" width="6" height="5.6"/>
<rect class="g" x="1135.90" y="332.1" width="2" height="51.6"/><rect class="g" x="1133.90" y="340.5" width="6" height="22.7"/>
<rect class="r" x="1142.67" y="319.5" width="2" height="51.7"/><rect class="r" x="1140.67" y="340.5" width="6" height="28.2"/>
<rect class="g" x="1149.44" y="328.9" width="2" height="43.7"/><rect class="g" x="1147.44" y="334.9" width="6" height="34.5"/>
<rect class="r" x="1156.21" y="332.8" width="2" height="28.9"/><rect class="r" x="1154.21" y="334.9" width="6" height="18.4"/>
<rect class="r" x="1162.98" y="349.8" width="2" height="22.8"/><rect class="r" x="1160.98" y="354.4" width="6" height="5.2"/>
<rect class="r" x="1169.75" y="352.1" width="2" height="23.7"/><rect class="r" x="1167.75" y="359.0" width="6" height="11.2"/>
<rect class="r" x="1176.52" y="365.2" width="2" height="38.8"/><rect class="r" x="1174.52" y="369.1" width="6" height="26.9"/>
<rect class="g" x="1183.29" y="374.7" width="2" height="27.6"/><rect class="g" x="1181.29" y="386.1" width="6" height="9.1"/>
<rect class="r" x="1190.06" y="381.0" width="2" height="23.0"/><rect class="r" x="1188.06" y="385.6" width="6" height="2.0"/>
<rect class="r" x="1196.83" y="384.7" width="2" height="28.4"/><rect class="r" x="1194.83" y="388.9" width="6" height="17.9"/>
<rect class="g" x="1203.60" y="391.0" width="2" height="26.9"/><rect class="g" x="1201.60" y="398.8" width="6" height="8.9"/>
<rect class="r" x="1210.37" y="385.4" width="2" height="20.7"/><rect class="r" x="1208.37" y="398.8" width="6" height="2.8"/>
<rect class="r" x="1217.14" y="387.6" width="2" height="28.0"/><rect class="r" x="1215.14" y="401.9" width="6" height="4.9"/>
<rect class="g" x="1223.91" y="393.2" width="2" height="19.9"/><rect class="g" x="1221.91" y="395.6" width="6" height="11.2"/>
<rect class="g" x="1230.68" y="382.3" width="2" height="21.7"/><rect class="g" x="1228.68" y="391.0" width="6" height="2.8"/>
<rect class="g" x="1237.45" y="367.7" width="2" height="34.6"/><rect class="g" x="1235.45" y="374.0" width="6" height="17.4"/>
<rect class="g" x="1244.22" y="364.2" width="2" height="23.4"/><rect class="g" x="1242.22" y="372.2" width="6" height="2.5"/>
<rect class="r" x="1250.99" y="371.2" width="2" height="20.2"/><rect class="r" x="1248.99" y="372.9" width="6" height="10.8"/>
<rect class="r" x="1257.76" y="377.2" width="2" height="33.8"/><rect class="r" x="1255.76" y="382.3" width="6" height="25.4"/>
<rect class="r" x="1264.53" y="403.3" width="2" height="19.9"/><rect class="r" x="1262.53" y="407.2" width="6" height="2.4"/>
<rect class="r" x="1271.30" y="405.0" width="2" height="38.3"/><rect class="r" x="1269.30" y="409.6" width="6" height="32.1"/>
<rect class="r" x="1278.07" y="432.9" width="2" height="37.0"/><rect class="r" x="1276.07" y="440.7" width="6" height="18.1"/>
<rect class="r" x="1284.84" y="454.5" width="2" height="25.4"/><rect class="r" x="1282.84" y="459.3" width="6" height="8.5"/>
<rect class="g" x="1291.61" y="426.0" width="2" height="50.9"/><rect class="g" x="1289.61" y="429.8" width="6" height="37.2"/>
<rect class="r" x="1298.38" y="429.5" width="2" height="24.5"/><rect class="r" x="1296.38" y="431.9" width="6" height="18.1"/>
<rect class="r" x="1305.15" y="449.1" width="2" height="29.2"/><rect class="r" x="1303.15" y="449.1" width="6" height="18.8"/>
<rect class="g" x="1311.92" y="459.3" width="2" height="19.0"/><rect class="g" x="1309.92" y="467.1" width="6" height="2.6"/>
<rect class="r" x="1318.69" y="463.0" width="2" height="44.6"/><rect class="r" x="1316.69" y="466.0" width="6" height="31.7"/>
<rect class="r" x="1325.46" y="490.2" width="2" height="59.2"/><rect class="r" x="1323.46" y="493.2" width="6" height="45.6"/>
<rect class="r" x="1332.23" y="522.8" width="2" height="34.0"/><rect class="r" x="1330.23" y="537.4" width="6" height="13.4"/>
<rect class="g" x="1339.00" y="535.1" width="2" height="33.0"/><rect class="g" x="1337.00" y="547.9" width="6" height="4.7"/>
<rect class="g" x="1345.77" y="522.8" width="2" height="69.4"/><rect class="g" x="1343.77" y="522.8" width="6" height="19.8"/>
<rect class="r" x="1352.54" y="824.2" width="2" height="219.4"/><rect class="r" x="1350.54" y="824.2" width="6" height="121.4"/>
<rect class="g" x="1359.31" y="819.7" width="2" height="148.6"/><rect class="g" x="1357.31" y="821.4" width="6" height="125.6"/>
<rect class="r" x="1366.08" y="805.8" width="2" height="88.9"/><rect class="r" x="1364.08" y="822.4" width="6" height="14.6"/>
<rect class="g" x="1372.85" y="804.0" width="2" height="47.1"/><rect class="g" x="1370.85" y="829.1" width="6" height="7.4"/>
<rect class="r" x="1379.62" y="812.7" width="2" height="69.0"/><rect class="r" x="1377.62" y="830.2" width="6" height="45.6"/>
<rect class="g" x="1386.39" y="845.1" width="2" height="38.7"/><rect class="g" x="1384.39" y="873.1" width="6" height="2.0"/>
<rect class="g" x="1393.16" y="833.0" width="2" height="44.6"/><rect class="g" x="1391.16" y="865.4" width="6" height="6.7"/>
<rect class="r" x="1399.93" y="856.3" width="2" height="32.4"/><rect class="r" x="1397.93" y="865.4" width="6" height="12.8"/>
<rect class="r" x="1406.70" y="873.3" width="2" height="39.9"/><rect class="r" x="1404.70" y="877.2" width="6" height="24.5"/>
<rect class="g" x="1413.47" y="865.4" width="2" height="41.6"/><rect class="g" x="1411.47" y="869.3" width="6" height="32.4"/>
<rect class="r" x="1420.24" y="858.4" width="2" height="36.5"/><rect class="r" x="1418.24" y="868.9" width="6" height="25.8"/>
<rect class="r" x="1427.01" y="882.5" width="2" height="40.1"/><rect class="r" x="1425.01" y="892.2" width="6" height="18.5"/>
<rect class="r" x="1433.78" y="908.4" width="2" height="47.3"/><rect class="r" x="1431.78" y="910.0" width="6" height="25.6"/>
<rect class="r" x="1440.55" y="923.7" width="2" height="38.3"/><rect class="r" x="1438.55" y="931.7" width="6" height="5.5"/>
<rect class="r" x="1447.32" y="911.1" width="2" height="48.6"/><rect class="r" x="1445.32" y="933.8" width="6" height="21.8"/>
<rect class="g" x="1454.09" y="931.2" width="2" height="39.3"/><rect class="g" x="1452.09" y="954.7" width="6" height="2.0"/>
<rect class="r" x="1460.86" y="950.1" width="2" height="33.7"/><rect class="r" x="1458.86" y="950.1" width="6" height="17.4"/>
<rect class="r" x="1467.63" y="957.7" width="2" height="31.3"/><rect class="r" x="1465.63" y="970.1" width="6" height="8.3"/>
<rect class="g" x="1474.40" y="948.4" width="2" height="40.7"/><rect class="g" x="1472.40" y="963.0" width="6" height="16.8"/>
<rect class="r" x="1481.17" y="960.1" width="2" height="85.7"/><rect class="r" x="1479.17" y="964.0" width="6" height="49.7"/>
<rect class="r" x="1487.94" y="976.3" width="2" height="157.1"/><rect class="r" x="1485.94" y="1011.2" width="6" height="82.6"/>
<rect class="r" x="1494.71" y="1091.2" width="2" height="103.7"/><rect class="r" x="1492.71" y="1093.2" width="6" height="51.0"/>
<rect class="g" x="1501.48" y="1085.1" width="2" height="64.8"/><rect class="g" x="1499.48" y="1088.1" width="6" height="61.8"/>
<rect class="g" x="1508.25" y="1068.1" width="2" height="38.1"/><rect class="g" x="1506.25" y="1072.6" width="6" height="19.0"/>
<rect class="r" x="1515.02" y="1068.7" width="2" height="73.3"/><rect class="r" x="1513.02" y="1070.9" width="6" height="36.1"/>
<rect class="g" x="1521.79" y="1075.8" width="2" height="52.0"/><rect class="g" x="1519.79" y="1089.0" width="6" height="17.4"/>
<rect class="r" x="1528.56" y="1068.7" width="2" height="41.9"/><rect class="r" x="1526.56" y="1089.0" width="6" height="2.5"/>
<rect class="g" x="1535.33" y="1043.3" width="2" height="51.2"/><rect class="g" x="1533.33" y="1050.3" width="6" height="40.4"/>
<rect class="g" x="1542.10" y="1018.2" width="2" height="44.6"/><rect class="g" x="1540.10" y="1020.7" width="6" height="30.0"/>
<rect class="g" x="1548.87" y="999.7" width="2" height="28.2"/><rect class="g" x="1546.87" y="1003.1" width="6" height="17.6"/>
<rect class="g" x="1555.64" y="982.4" width="2" height="47.2"/><rect class="g" x="1553.64" y="999.0" width="6" height="5.9"/>
<rect class="r" x="1562.41" y="995.8" width="2" height="39.8"/><rect class="r" x="1560.41" y="999.7" width="6" height="5.6"/>
<rect class="r" x="1569.18" y="998.9" width="2" height="19.7"/><rect class="r" x="1567.18" y="1005.2" width="6" height="7.1"/>
<rect class="g" x="1575.95" y="984.1" width="2" height="39.4"/><rect class="g" x="1573.95" y="1008.4" width="6" height="2.0"/>
<rect class="r" x="1582.72" y="1004.2" width="2" height="40.1"/><rect class="r" x="1580.72" y="1011.9" width="6" height="4.9"/>
<rect class="g" x="1589.49" y="942.3" width="2" height="90.2"/><rect class="g" x="1587.49" y="956.1" width="6" height="58.6"/>
<rect class="g" x="1596.26" y="848.3" width="2" height="118.4"/><rect class="g" x="1594.26" y="857.0" width="6" height="103.6"/>
<rect class="g" x="1603.03" y="843.0" width="2" height="57.0"/><rect class="g" x="1601.03" y="852.3" width="6" height="5.3"/>
<rect class="g" x="1609.80" y="809.1" width="2" height="59.4"/><rect class="g" x="1607.80" y="814.2" width="6" height="38.5"/>
<rect class="r" x="1616.57" y="805.8" width="2" height="44.7"/><rect class="r" x="1614.57" y="814.2" width="6" height="10.4"/>
<rect class="g" x="1623.34" y="781.8" width="2" height="47.9"/><rect class="g" x="1621.34" y="792.6" width="6" height="29.0"/>
<rect class="g" x="1630.11" y="747.2" width="2" height="54.5"/><rect class="g" x="1628.11" y="753.2" width="6" height="37.6"/>
<rect class="g" x="1636.88" y="691.0" width="2" height="74.8"/><rect class="g" x="1634.88" y="720.4" width="6" height="33.5"/>
<rect class="g" x="1643.65" y="704.9" width="2" height="50.3"/><rect class="g" x="1641.65" y="719.3" width="6" height="3.2"/>
<rect class="r" x="1650.42" y="702.6" width="2" height="33.9"/><rect class="r" x="1648.42" y="720.7" width="6" height="4.9"/>
<rect class="g" x="1657.19" y="680.9" width="2" height="53.8"/><rect class="g" x="1655.19" y="705.1" width="6" height="24.3"/>
<rect class="g" x="1663.96" y="676.3" width="2" height="42.3"/><rect class="g" x="1661.96" y="687.2" width="6" height="18.2"/>
<rect class="r" x="1670.73" y="681.6" width="2" height="44.0"/><rect class="r" x="1668.73" y="687.2" width="6" height="35.3"/>
<rect class="r" x="1677.50" y="711.4" width="2" height="36.5"/><rect class="r" x="1675.50" y="723.8" width="6" height="20.9"/>
<rect class="r" x="1684.27" y="733.0" width="2" height="22.9"/><rect class="r" x="1682.27" y="744.7" width="6" height="5.0"/>
<rect class="r" x="1691.04" y="740.7" width="2" height="29.1"/><rect class="r" x="1689.04" y="753.9" width="6" height="10.8"/>
<rect class="r" x="1697.81" y="755.3" width="2" height="21.5"/><rect class="r" x="1695.81" y="766.1" width="6" height="2.1"/>
<rect class="g" x="1704.58" y="746.3" width="2" height="38.3"/><rect class="g" x="1702.58" y="751.0" width="6" height="15.8"/>
<rect class="g" x="1711.35" y="748.2" width="2" height="12.3"/><rect class="g" x="1709.35" y="749.7" width="6" height="2.0"/>
</g>
<line x1="15.4" y1="750.6" x2="1782" y2="750.6" stroke="#089981" stroke-width="2" stroke-dasharray="1.6 3.05"/>
<g fill="#131313"><path d="M18.7 1374.1H36.7V1396.8H28V1383.2H18.7Z"/><path d="M53.9 1374.1H64.9L56.1 1396.8H45.2Z"/><circle cx="44.5" cy="1379" r="4.25"/></g>
<defs><clipPath id="tc"><rect x="0" y="1297" width="1783.5" height="43"/></clipPath></defs>
<text x="16.10" y="31.20" style="font-size:19px;letter-spacing:0.313px;fill:#141414;stroke:#141414;stroke-width:0.25px">Đã tạo với TradingView.com, Tháng 4 20, 2026 09:26 UTC+7</text>
<text x="29.00" y="72.80" style="font-size:19px;letter-spacing:-0.109px;fill:#141414;stroke:#141414;stroke-width:0.25px">Vàng / Đô la Mỹ · 5 · ICE</text>
<text x="248.35" y="72.80" style="font-size:19px;letter-spacing:0.000px;fill:#141414;stroke:#141414;stroke-width:0.25px">O</text>
<text transform="translate(263.50 72.80) scale(1.04 1)" style="font-size:19px;letter-spacing:-0.158px;fill:#089981;stroke:#089981;stroke-width:0.25px">4,803.010</text>
<text x="360.75" y="72.80" style="font-size:19px;letter-spacing:0.000px;fill:#141414;stroke:#141414;stroke-width:0.25px">H</text>
<text transform="translate(375.20 72.80) scale(1.04 1)" style="font-size:19px;letter-spacing:0.250px;fill:#089981;stroke:#089981;stroke-width:0.25px">4,803.500</text>
<text x="475.80" y="72.80" style="font-size:19px;letter-spacing:0.000px;fill:#141414;stroke:#141414;stroke-width:0.25px">L</text>
<text transform="translate(487.00 72.80) scale(1.04 1)" style="font-size:19px;letter-spacing:-0.098px;fill:#089981;stroke:#089981;stroke-width:0.25px">4,801.630</text>
<text x="584.85" y="72.80" style="font-size:19px;letter-spacing:0.000px;fill:#141414;stroke:#141414;stroke-width:0.25px">C</text>
<text transform="translate(599.00 72.80) scale(1.04 1)" style="font-size:19px;letter-spacing:-0.279px;fill:#089981;stroke:#089981;stroke-width:0.25px">4,803.179</text>
<text transform="translate(696.00 72.80) scale(1.04 1)" style="font-size:19px;letter-spacing:0.116px;fill:#089981;stroke:#089981;stroke-width:0.25px">+0.006</text>
<text transform="translate(764.16 72.80) scale(1.04 1)" style="font-size:19px;letter-spacing:0.007px;fill:#089981;stroke:#089981;stroke-width:0.25px">(+0.00%)</text>
<text x="28.00" y="99.20" style="font-size:19px;letter-spacing:-0.175px;fill:#141414;stroke:#141414;stroke-width:0.25px">Khối lượng</text>
<text transform="translate(132.90 99.20) scale(0.97 1)" style="font-size:19px;letter-spacing:-0.247px;fill:#26A69A;stroke:#26A69A;stroke-width:0.25px">2.73<tspan dx="-1.51"> K</tspan></text>
<text transform="translate(1796.80 1242.50) scale(1.1 1)" style="font-size:18px;letter-spacing:0.378px;fill:#141414;stroke:#141414;stroke-width:0.25px">4,730.000</text>
<text transform="translate(1796.80 1176.00) scale(1.1 1)" style="font-size:18px;letter-spacing:0.378px;fill:#141414;stroke:#141414;stroke-width:0.25px">4,740.000</text>
<text transform="translate(1796.80 1109.50) scale(1.1 1)" style="font-size:18px;letter-spacing:0.378px;fill:#141414;stroke:#141414;stroke-width:0.25px">4,750.000</text>
<text transform="translate(1796.80 1043.00) scale(1.1 1)" style="font-size:18px;letter-spacing:0.378px;fill:#141414;stroke:#141414;stroke-width:0.25px">4,760.000</text>
<text transform="translate(1796.80 976.50) scale(1.1 1)" style="font-size:18px;letter-spacing:0.378px;fill:#141414;stroke:#141414;stroke-width:0.25px">4,770.000</text>
<text transform="translate(1796.80 910.00) scale(1.1 1)" style="font-size:18px;letter-spacing:0.378px;fill:#141414;stroke:#141414;stroke-width:0.25px">4,780.000</text>
<text transform="translate(1796.80 843.50) scale(1.1 1)" style="font-size:18px;letter-spacing:0.378px;fill:#141414;stroke:#141414;stroke-width:0.25px">4,790.000</text>
<text transform="translate(1796.80 777.00) scale(1.1 1)" style="font-size:18px;letter-spacing:0.378px;fill:#141414;stroke:#141414;stroke-width:0.25px">4,800.000</text>
<text transform="translate(1796.80 710.50) scale(1.1 1)" style="font-size:18px;letter-spacing:0.378px;fill:#141414;stroke:#141414;stroke-width:0.25px">4,810.000</text>
<text transform="translate(1796.80 644.00) scale(1.1 1)" style="font-size:18px;letter-spacing:0.378px;fill:#141414;stroke:#141414;stroke-width:0.25px">4,820.000</text>
<text transform="translate(1796.80 577.50) scale(1.1 1)" style="font-size:18px;letter-spacing:0.378px;fill:#141414;stroke:#141414;stroke-width:0.25px">4,830.000</text>
<text transform="translate(1796.80 511.00) scale(1.1 1)" style="font-size:18px;letter-spacing:0.378px;fill:#141414;stroke:#141414;stroke-width:0.25px">4,840.000</text>
<text transform="translate(1796.80 444.50) scale(1.1 1)" style="font-size:18px;letter-spacing:0.378px;fill:#141414;stroke:#141414;stroke-width:0.25px">4,850.000</text>
<text transform="translate(1796.80 378.00) scale(1.1 1)" style="font-size:18px;letter-spacing:0.378px;fill:#141414;stroke:#141414;stroke-width:0.25px">4,860.000</text>
<text transform="translate(1796.80 311.50) scale(1.1 1)" style="font-size:18px;letter-spacing:0.378px;fill:#141414;stroke:#141414;stroke-width:0.25px">4,870.000</text>
<text transform="translate(1796.80 245.00) scale(1.1 1)" style="font-size:18px;letter-spacing:0.378px;fill:#141414;stroke:#141414;stroke-width:0.25px">4,880.000</text>
<text transform="translate(1796.80 178.50) scale(1.1 1)" style="font-size:18px;letter-spacing:0.378px;fill:#141414;stroke:#141414;stroke-width:0.25px">4,890.000</text>
<text transform="translate(1796.80 112.00) scale(1.1 1)" style="font-size:18px;letter-spacing:0.378px;fill:#141414;stroke:#141414;stroke-width:0.25px">4,900.000</text>
<text transform="translate(27.70 1326.00) scale(1.1 1)" style="font-size:18px;letter-spacing:0.310px;fill:#141414;stroke:#141414;stroke-width:0.25px">12:00</text>
<text transform="translate(108.94 1326.00) scale(1.1 1)" style="font-size:18px;letter-spacing:0.310px;fill:#141414;stroke:#141414;stroke-width:0.25px">13:00</text>
<text transform="translate(190.18 1326.00) scale(1.1 1)" style="font-size:18px;letter-spacing:0.310px;fill:#141414;stroke:#141414;stroke-width:0.25px">14:00</text>
<text transform="translate(271.42 1326.00) scale(1.1 1)" style="font-size:18px;letter-spacing:0.310px;fill:#141414;stroke:#141414;stroke-width:0.25px">15:00</text>
<text transform="translate(352.66 1326.00) scale(1.1 1)" style="font-size:18px;letter-spacing:0.310px;fill:#141414;stroke:#141414;stroke-width:0.25px">16:00</text>
<text transform="translate(433.90 1326.00) scale(1.1 1)" style="font-size:18px;letter-spacing:0.310px;fill:#141414;stroke:#141414;stroke-width:0.25px">17:00</text>
<text transform="translate(515.14 1326.00) scale(1.1 1)" style="font-size:18px;letter-spacing:0.310px;fill:#141414;stroke:#141414;stroke-width:0.25px">18:00</text>
<text transform="translate(596.38 1326.00) scale(1.1 1)" style="font-size:18px;letter-spacing:0.310px;fill:#141414;stroke:#141414;stroke-width:0.25px">19:00</text>
<text transform="translate(678.72 1326.00) scale(1.1 1)" style="font-size:18px;letter-spacing:0.060px;fill:#141414;stroke:#141414;stroke-width:0.25px">20:00</text>
<text transform="translate(759.96 1326.00) scale(1.1 1)" style="font-size:18px;letter-spacing:0.060px;fill:#141414;stroke:#141414;stroke-width:0.25px">21:00</text>
<text transform="translate(841.20 1326.00) scale(1.1 1)" style="font-size:18px;letter-spacing:0.060px;fill:#141414;stroke:#141414;stroke-width:0.25px">22:00</text>
<text transform="translate(922.44 1326.00) scale(1.1 1)" style="font-size:18px;letter-spacing:0.060px;fill:#141414;stroke:#141414;stroke-width:0.25px">23:00</text>
<text transform="translate(1016.98 1326.00) scale(1.1 1)" style="font-size:18px;letter-spacing:0.080px;fill:#141414;stroke:#141414;stroke-width:0.25px">18</text>
<text transform="translate(1084.92 1326.00) scale(1.1 1)" style="font-size:18px;letter-spacing:0.060px;fill:#141414;stroke:#141414;stroke-width:0.25px">01:00</text>
<text transform="translate(1166.16 1326.00) scale(1.1 1)" style="font-size:18px;letter-spacing:0.060px;fill:#141414;stroke:#141414;stroke-width:0.25px">02:00</text>
<text transform="translate(1247.40 1326.00) scale(1.1 1)" style="font-size:18px;letter-spacing:0.060px;fill:#141414;stroke:#141414;stroke-width:0.25px">03:00</text>
<text transform="translate(1342.04 1326.00) scale(1.18 1)" style="font-size:18px;letter-spacing:-0.180px;fill:#141414;font-weight:bold">20</text>
<text transform="translate(1409.88 1326.00) scale(1.1 1)" style="font-size:18px;letter-spacing:0.060px;fill:#141414;stroke:#141414;stroke-width:0.25px">06:00</text>
<text transform="translate(1491.12 1326.00) scale(1.1 1)" style="font-size:18px;letter-spacing:0.060px;fill:#141414;stroke:#141414;stroke-width:0.25px">07:00</text>
<text transform="translate(1572.36 1326.00) scale(1.1 1)" style="font-size:18px;letter-spacing:0.060px;fill:#141414;stroke:#141414;stroke-width:0.25px">08:00</text>
<text transform="translate(1653.60 1326.00) scale(1.1 1)" style="font-size:18px;letter-spacing:0.060px;fill:#141414;stroke:#141414;stroke-width:0.25px">09:00</text>
<g clip-path="url(#tc)"><text transform="translate(1733.74 1326.00) scale(1.1 1)" style="font-size:18px;letter-spacing:0.310px;fill:#141414;stroke:#141414;stroke-width:0.25px">10:00</text></g>
<text x="76.40" y="1396.80" style="font-size:32.5px;letter-spacing:-0.476px;fill:#131313;font-weight:bold">TradingView</text>
<path d="M1785 737H1895A3 3 0 0 1 1898 740V761A3 3 0 0 1 1895 764H1785Z" fill="#089981"/>
<path d="M1785 1248.5H1856A3 3 0 0 1 1859 1251.5V1272A3 3 0 0 1 1856 1275H1785Z" fill="#26A69A"/>
<text transform="translate(1796.80 756.20) scale(1.1 1)" style="font-size:18px;letter-spacing:0.378px;fill:#FFFFFF;stroke:#FFFFFF;stroke-width:0.25px">4,803.179</text>
<text transform="translate(1797.20 1268.30) scale(1.1 1)" style="font-size:18px;letter-spacing:0.174px;fill:#FFFFFF;stroke:#FFFFFF;stroke-width:0.25px">2.73<tspan dx="-2.72"> K</tspan></text>
</svg></body></html>
